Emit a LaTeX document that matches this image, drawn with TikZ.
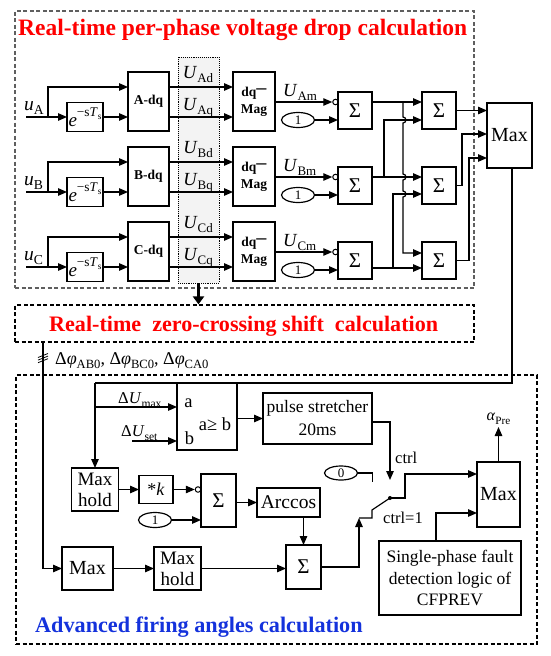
\documentclass[tikz,border=0pt]{standalone}
\usepackage{fontspec}
\setmainfont{Liberation Serif}
\usepackage{graphicx}
\usetikzlibrary{arrows.meta,shapes.geometric}
\newcommand\dn[1]{\raisebox{-0.25em}{\scalebox{0.7}{#1}}}
\newcommand\up[1]{\raisebox{0.5em}{\scalebox{0.7}{#1}}}
\newcommand\fs[2]{\fontsize{#1}{#2}\selectfont}
\definecolor{tred}{RGB}{255,0,0}
\definecolor{tblue}{RGB}{20,50,220}
\definecolor{dgray}{RGB}{95,95,95}
\definecolor{lgray}{RGB}{243,243,243}
\tikzset{
  ln/.style={line width=1.2pt},
  arr/.style={line width=1.2pt,-{Triangle[length=9pt,width=7.5pt]}},
  blk/.style={draw,line width=1.2pt,inner sep=0pt,outer sep=0pt,align=center},
  dqb/.style={blk,minimum width=41pt,minimum height=59pt,font=\bfseries\fs{13.5}{17}},
  delb/.style={blk,minimum width=36pt,minimum height=29pt,font=\fs{19}{19}},
  oneb/.style={draw,ellipse,line width=1.2pt,minimum width=33pt,minimum height=15pt,inner sep=0pt,font=\fs{13}{13}},
  invc/.style={draw,circle,line width=1pt,minimum size=5.5pt,inner sep=0pt,fill=white},
  sumb/.style={blk,minimum width=34pt,minimum height=37pt,font=\fs{21}{21}},
  lab/.style={inner sep=0pt,font=\fs{18.5}{18.5}},
  dbox/.style={draw,line width=1.2pt,dash pattern=on 4pt off 2.5pt,inner sep=0pt},
  ttl/.style={inner sep=0pt,anchor=base west,font=\bfseries\fs{22.1}{23}},
}
\begin{document}
\begin{tikzpicture}[x=1pt,y=-1pt]
\useasboundingbox (0,0) rectangle (550,656);
% ---------- top block ----------
\node[dbox,draw=dgray,minimum width=459pt,minimum height=277pt] (tb) at (244.5,149.5) {};
\node[ttl,text=tred,font=\bfseries\fs{23.5}{24}] (t1txt) at (18,35) {Real-time per-phase voltage drop calculation};
\node[draw,fill=lgray,line width=0.9pt,densely dotted,minimum width=41pt,minimum height=226pt,inner sep=0pt] (dot) at (198.5,170) {};
\foreach \ph [count=\i from 0] in {A,B,C}{
  \pgfmathsetmacro\dy{75*\i}
  \coordinate (in\ph) at (26,{117+\dy});
  \coordinate (br\ph) at (48,{117+\dy});
  \coordinate (p\ph) at (48,{87+\dy});
  \node[delb] (del\ph) at (85,{117+\dy}) {\textit{e}\up{−s\textit{T}\dn{s}}};
  \node[dqb] (dq\ph) at (148.5,{101.5+\dy}) {\ph-dq};
  \node[dqb,minimum width=42pt] (mag\ph) at (254,{101.5+\dy}) {dq\raisebox{2.5pt}{\scalebox{0.75}[1.3]{—}}\\Mag};
  \node[invc] (inv\ph) at (335.5,{102+\dy}) {};
  \node[oneb] (one\ph) at (298,{120+\dy}) {1};
  \node[sumb] (sa\ph) at (355,{110.5+\dy}) {Σ};
  \node[sumb] (sb\ph) at (439,{110.5+\dy}) {Σ};
  \node[lab,anchor=base west,font=\fs{19.5}{19.5}] at (24,{110+\dy}) {\textit{u}\dn{\ph}};
  \node[lab,anchor=base] at (198,{78+\dy}) {\textit{U}\dn{\ph d}};
  \node[lab,anchor=base] at (198,{110+\dy}) {\textit{U}\dn{\ph q}};
  \node[lab,anchor=base west] at (283,{96+\dy}) {\textit{U}\dn{\ph m}};
  \draw[arr] (in\ph) -- (del\ph.west);
  \draw[arr] (br\ph) -- (p\ph) -- (dq\ph.west |- p\ph);
  \draw[arr] (del\ph.east) -- (dq\ph.west |- del\ph.east);
  \draw[arr] (dq\ph.east |- p\ph) -- (mag\ph.west |- p\ph);
  \draw[arr] (dq\ph.east |- del\ph.east) -- (mag\ph.west |- del\ph.east);
  \draw[arr] (mag\ph.east |- inv\ph) -- (inv\ph.west);
  \draw[arr] (one\ph.east) -- (sa\ph.west |- one\ph.east);
}
\node[blk,minimum width=45pt,minimum height=65pt,font=\fs{20}{20}] (mx) at (509.5,135.5) {Max};
% sum interconnections
\coordinate (oC) at (0,268);
\coordinate (yB2) at (0,194);
\draw[arr] (saA.east |- invA) -- (sbA.west |- invA);
\draw[arr] (saB.east |- invB) -- (sbB.west |- invB);
\draw[arr] (saC.east |- oC) -- (sbC.west |- oC);
\coordinate (jA) at (403,102);
\coordinate (jA2) at (403,253);
\draw[arr] (jA) -- (403,117) arc[start angle=90,end angle=-90,radius=3pt]
  -- (403,174) arc[start angle=90,end angle=-90,radius=3pt]
  -- (403,191) arc[start angle=90,end angle=-90,radius=3pt]
  -- (jA2) -- (sbC.west |- jA2);
\coordinate (jB) at (384,177);
\draw[arr] (jB) |- (sbA.west |- oneA);
\coordinate (jC) at (393,268);
\draw[arr] (jC) |- (sbB.west |- yB2);
\coordinate (m2) at (487,134);
\coordinate (m3) at (487,158);
\draw[arr] (sbA.east) -- (mx.west |- sbA.east);
\draw[arr] (sbB.east) -- ++(6,0) |- (m2);
\draw[arr] (sbC.east) -- ++(13,0) |- (m3);
% ---------- zero crossing block ----------
\node[dbox,minimum width=459pt,minimum height=37pt] (zc) at (244.5,323.5) {};
\node[ttl,text=tred] at (49,331) {Real-time\ \ zero-crossing shift\ \ calculation};
\draw[line width=2.6pt,-{Triangle[length=8pt,width=11pt]}] (dot.south) -- (zc.north -| dot.south);
% ---------- advanced firing block ----------
\node[dbox,minimum width=521pt,minimum height=269pt] (fb) at (276.5,509.5) {};
\node[ttl,text=tblue,font=\bfseries\fs{22.2}{23}] at (35,632) {Advanced firing angles calculation};
\coordinate (v1) at (43,568.5);
\draw[arr] (zc.south -| v1) -- (v1) -- ++(19,0);
\foreach \o in {0,2.6,5.2} \draw[line width=0.8pt] (38,{357.5+\o}) -- (48,{353.5+\o});
\node[lab,anchor=base west,font=\fs{18}{18}] at (55,364) {Δ\textit{φ}\dn{AB0}, Δ\textit{φ}\dn{BC0}, Δ\textit{φ}\dn{CA0}};
% blocks
\node[blk,minimum width=60pt,minimum height=67pt] (cmp) at (207,416.5) {};
\node[lab,anchor=base] at (188.5,407) {a};
\node[lab,anchor=base] at (189.5,444) {b};
\node[lab,anchor=base] at (215,430) {a≥ b};
\node[blk,minimum width=109pt,minimum height=51pt,font=\fs{17.5}{23}] (ps) at (317.5,418.5) {pulse stretcher\\20ms};
\node[blk,minimum width=47pt,minimum height=43pt,font=\fs{19}{21}] (mh1) at (95,489.5) {Max\\hold};
\node[blk,minimum width=34pt,minimum height=28pt,font=\fs{18}{18}] (kb) at (156,489.5) {*\textit{k}};
\node[invc] (inv3) at (198,489.5) {};
\node[oneb] (one3) at (155,520) {1};
\node[blk,minimum width=35pt,minimum height=53pt,font=\fs{21}{21}] (s3) at (218.5,500.5) {Σ};
\node[blk,minimum width=63pt,minimum height=29pt,font=\fs{19.5}{20}] (ac) at (288.5,502.5) {Arccos};
\node[blk,minimum width=35pt,minimum height=44pt,font=\fs{21}{21}] (s4) at (303.5,567) {Σ};
\node[blk,minimum width=51pt,minimum height=43pt,font=\fs{20}{20}] (mx3) at (87.5,568.5) {Max};
\node[blk,minimum width=47pt,minimum height=43pt,font=\fs{19}{21}] (mh2) at (177.5,568.5) {Max\\hold};
\node[oneb,minimum height=14pt] (zero) at (341,473) {0};
\node[blk,minimum width=43pt,minimum height=65pt,font=\fs{20}{20}] (mx2) at (498.5,494.5) {Max};
\node[blk,minimum width=142pt,minimum height=74pt,font=\fs{17.5}{21.5}] (sp) at (450,578) {Single-phase fault\\detection logic of\\CFPREV};
% labels
\node[lab,anchor=base west,font=\fs{16.5}{16.5}] at (118,403) {Δ\textit{U}\dn{max}};
\node[lab,anchor=base west,font=\fs{16.5}{16.5}] at (121,436) {Δ\textit{U}\dn{set}};
\node[lab,anchor=base west,font=\fs{16.5}{16.5}] at (395,463) {ctrl};
\node[lab,anchor=base west,font=\fs{16.5}{16.5}] at (383,523) {ctrl=1};
% connectors
\coordinate (t1) at (512,383);
\coordinate (t2) at (95,383);
\coordinate (t3) at (95,407);
\coordinate (us) at (132,441);
\draw[ln] (mx.south -| t1) -- (t1) -- (t2);
\draw[arr] (t2) -- (mh1.north);
\draw[arr] (t3) -- (cmp.west |- t3);
\draw[arr] (us) -- (cmp.west |- us);
\draw[arr] (cmp.east |- ps.west) -- (ps.west);
\draw[arr] (mh1.east) -- (kb.west);
\draw[arr] (kb.east) -- (inv3.west);
\draw[arr] (one3.east) -- (s3.west |- one3.east);
\draw[arr] (s3.east |- ac.west) -- (ac.west);
\draw[arr] (ac.south -| s4.north) -- (s4.north);
\draw[arr] (mx3.east) -- (mh2.west);
\draw[arr] (mh2.east) -- (s4.west |- mh2.east);
% switch
\coordinate (sw1) at (359,518);
\coordinate (sw2) at (372,510);
\coordinate (piv) at (390,498);
\coordinate (c1) at (390,480);
\draw[arr] (s4.east) -| (sw1);
\draw[ln] (sw1) -- (372,518) -- (sw2) -- (piv);
\fill (piv) circle (2pt);
\draw[ln] (zero.east) -- ++(14,0) -- ++(0,9);
\draw[arr] ([yshift=-3.5pt]ps.east) -| (c1);
\draw[arr] (piv) -- ++(15,0) |- ([yshift=20.5pt]mx2.west);
\draw[arr] ([xshift=-14pt]sp.north) |- ([yshift=-18.5pt]mx2.west);
\coordinate (aout) at (498.5,427);
\draw[arr] (mx2.north) -- (aout);
\node[anchor=south,inner sep=2pt,font=\fs{16}{16}] at (aout) {\textit{α}\dn{Pre}};
\end{tikzpicture}
\end{document}
